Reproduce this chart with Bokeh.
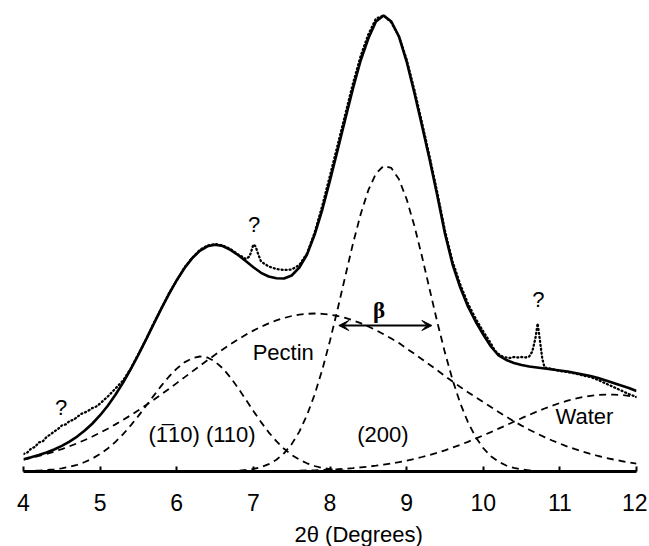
from bokeh.plotting import figure
from bokeh.models import Range1d, Label, Arrow, VeeHead, FixedTicker, Title
from bokeh.embed import file_html
from bokeh.resources import INLINE

# ---- data (intensity in arbitrary units) ----
TWO_THETA = [4.0, 4.1, 4.2, 4.3, 4.4, 4.5, 4.6, 4.7, 4.8, 4.9,
             5.0, 5.1, 5.2, 5.3, 5.4, 5.5, 5.6, 5.7, 5.8, 5.9,
             6.0, 6.1, 6.2, 6.3, 6.4, 6.5, 6.6, 6.7, 6.8, 6.9,
             7.0, 7.1, 7.2, 7.3, 7.4, 7.5, 7.6, 7.7, 7.8, 7.9,
             8.0, 8.1, 8.2, 8.3, 8.4, 8.5, 8.6, 8.7, 8.8, 8.9,
             9.0, 9.1, 9.2, 9.3, 9.4, 9.5, 9.6, 9.7, 9.8, 9.9,
             10.0, 10.1, 10.2, 10.3, 10.4, 10.5, 10.6, 10.7, 10.8, 10.9,
             11.0, 11.1, 11.2, 11.3, 11.4, 11.5, 11.6, 11.7, 11.8, 11.9,
             12.0]

PEAK_110 = [0.3, 0.6, 0.9, 1.4, 2.1, 3.2, 4.7, 6.7, 9.5, 13.0,
            17.5, 23.0, 29.6, 37.3, 46.1, 55.6, 65.7, 75.9, 85.9, 95.0,
            102.9, 109.1, 113.2, 115.0, 114.0, 109.9, 103.2, 94.1, 83.5, 72.1,
            60.5, 49.4, 39.2, 30.3, 22.7, 16.6, 11.8, 8.2, 5.5, 3.6,
            2.3, 1.4, 0.8, 0.5, 0.3, 0.2, 0.1, 0.1, 0, 0,
            0, 0, 0, 0, 0, 0, 0, 0, 0, 0,
            0, 0, 0, 0, 0, 0, 0, 0, 0, 0,
            0, 0, 0, 0, 0, 0, 0, 0, 0, 0,
            0]

PECTIN = [11.9, 13.6, 15.5, 17.6, 19.9, 22.4, 25.2, 28.2, 31.5, 35.0,
          38.8, 42.8, 47.1, 51.6, 56.3, 61.2, 66.4, 71.7, 77.2, 82.7,
          88.4, 94.1, 99.9, 105.6, 111.2, 116.7, 122.1, 127.2, 132.1, 136.7,
          140.9, 144.7, 148.1, 151.1, 153.5, 155.5, 156.9, 157.7, 158.0, 157.7,
          156.9, 155.5, 153.6, 151.2, 148.3, 145.0, 141.3, 137.3, 133.0, 128.5,
          123.0, 117.8, 112.3, 106.8, 101.2, 95.5, 90.0, 84.6, 79.3, 74.2,
          69.4, 64.5, 59.5, 54.8, 50.2, 45.9, 41.8, 38.0, 34.4, 31.0,
          27.9, 24.9, 22.3, 19.8, 17.6, 15.5, 13.7, 12.0, 10.5, 9.1,
          7.9]

PEAK_200 = [0, 0, 0, 0, 0, 0, 0, 0, 0, 0,
            0, 0, 0, 0, 0, 0, 0, 0, 0, 0,
            0, 0, 0, 0, 0, 0.1, 0.2, 0.4, 0.8, 1.5,
            2.6, 4.4, 7.3, 11.7, 18.2, 27.4, 39.9, 56.4, 77.1, 102.0,
            130.8, 162.5, 195.5, 227.9, 257.2, 281.3, 297.9, 305.6, 303.6, 292.2,
            272.4, 246.0, 215.2, 182.3, 149.5, 118.9, 91.5, 68.2, 49.3, 34.5,
            23.4, 15.3, 9.8, 6.0, 3.6, 2.1, 1.2, 0.6, 0.3, 0.2,
            0.1, 0, 0, 0, 0, 0, 0, 0, 0, 0,
            0]

WATER = [0, 0, 0, 0, 0, 0, 0, 0, 0, 0,
         0, 0, 0, 0, 0, 0, 0, 0, 0, 0,
         0, 0, 0, 0, 0, 0, 0, 0, 0.1, 0.1,
         0.2, 0.2, 0.3, 0.4, 0.5, 0.6, 0.8, 1.0, 1.2, 1.5,
         1.9, 2.3, 2.8, 3.4, 4.1, 4.9, 5.8, 6.8, 8.0, 9.4,
         10.9, 12.6, 14.5, 16.5, 18.8, 21.2, 23.9, 26.7, 29.7, 32.8,
         36.1, 39.4, 42.9, 46.3, 49.8, 53.3, 56.6, 59.9, 63.0, 65.8,
         68.5, 70.8, 72.8, 74.4, 75.7, 76.5, 76.9, 76.9, 76.5, 75.7,
         74.4]

FIT = [12.2, 14.2, 16.4, 19.0, 22.0, 25.6, 29.9, 34.9, 41.0, 48.0,
       56.3, 65.8, 76.7, 88.9, 102.4, 116.8, 132.1, 147.6, 163.1, 177.7,
       191.3, 203.2, 213.1, 220.6, 225.2, 226.7, 225.5, 221.7, 216.5, 210.4,
       204.2, 198.7, 195.0, 193.2, 193.0, 196.0, 204.0, 217.0, 237.0, 262.0,
       291.0, 321.5, 352.5, 383.0, 411.0, 433.0, 450.0, 456.0, 450.0, 435.0,
       410.0, 379.0, 346.0, 312.0, 276.0, 238.0, 207.0, 184.0, 165.0, 150.0,
       137.0, 125.0, 116.0, 111.5, 108.5, 106.5, 105.0, 104.0, 103.0, 102.0,
       101.0, 100.0, 98.5, 97.0, 95.5, 93.5, 91.0, 88.5, 86.0, 83.5,
       80.5]

DATA_X = [4.0, 4.05, 4.1, 4.15, 4.2, 4.25, 4.3, 4.35, 4.4, 4.45,
          4.5, 4.55, 4.6, 4.65, 4.7, 4.75, 4.8, 4.85, 4.9, 4.95,
          5.0, 5.1, 5.2, 5.3, 5.4, 5.5, 5.6, 5.7, 5.8, 5.9,
          6.0, 6.1, 6.2, 6.3, 6.4, 6.5, 6.6, 6.7, 6.8, 6.85,
          6.9, 6.95, 6.98, 7.0, 7.03, 7.06, 7.1, 7.2, 7.3, 7.4,
          7.5, 7.6, 7.7, 7.8, 7.9, 8.0, 8.1, 8.2, 8.3, 8.4,
          8.5, 8.6, 8.7, 8.8, 8.9, 9.0, 9.1, 9.2, 9.3, 9.4,
          9.5, 9.6, 9.7, 9.8, 9.9, 10.0, 10.1, 10.15, 10.2, 10.25,
          10.3, 10.35, 10.4, 10.45, 10.5, 10.55, 10.6, 10.64, 10.68, 10.71,
          10.74, 10.77, 10.8, 10.9, 11.0, 11.1, 11.2, 11.3, 11.4, 11.5,
          11.6, 11.7, 11.8, 11.9, 12.0]

DATA_Y = [17.5, 19.0, 23.0, 24.5, 29.0, 30.0, 34.5, 37.0, 40.0, 42.5,
          46.0, 47.0, 50.5, 51.5, 54.5, 57.5, 59.0, 61.0, 63.5, 65.0,
          68.0, 75.0, 83.0, 91.0, 103.0, 117.5, 132.0, 148.5, 163.0, 178.5,
          191.0, 204.0, 213.5, 221.5, 226.0, 227.5, 226.0, 222.5, 217.0, 215.0,
          212.5, 215.0, 222.0, 227.0, 225.0, 218.0, 210.0, 205.0, 202.5, 201.5,
          202.0, 206.5, 218.0, 239.0, 266.0, 296.0, 326.5, 357.5, 388.0, 415.5,
          437.0, 453.0, 456.0, 449.0, 435.0, 412.0, 382.0, 349.0, 315.0, 279.0,
          241.0, 210.0, 187.0, 168.0, 153.0, 140.0, 128.0, 121.0, 117.5, 115.0,
          114.0, 113.5, 114.5, 114.0, 114.5, 114.0, 115.0, 120.0, 133.0, 148.0,
          131.0, 113.0, 104.0, 102.5, 100.5, 99.5, 98.0, 96.0, 94.5, 91.5,
          88.0, 84.5, 81.0, 77.5, 74.5]

TICKS = [4, 5, 6, 7, 8, 9, 10, 11, 12]

# FWHM of the (200) reflection (beta)
BETA_LEFT = 8.115
BETA_RIGHT = 9.33
BETA_LEVEL = 146

FONT = "Liberation Sans"
FS = "22px"

p = figure(frame_width=613, frame_height=461,
           x_range=Range1d(4, 12), y_range=Range1d(0, 461),
           output_backend="svg", toolbar_location=None,
           y_axis_location=None,
           min_border_left=23, min_border_right=11,
           min_border_top=10, min_border_bottom=0)
p.outline_line_color = None
p.grid.visible = False
p.background_fill_color = "white"
p.border_fill_color = "white"

ax = p.xaxis[0]
ax.ticker = FixedTicker(ticks=TICKS)
ax.axis_line_width = 2.8
ax.axis_line_color = "black"
ax.major_tick_in = 5
ax.major_tick_out = 0
ax.major_tick_line_width = 2
ax.major_tick_line_color = "black"
ax.minor_tick_line_color = None
ax.major_label_text_font = FONT
ax.major_label_text_font_size = "23px"
ax.major_label_text_color = "black"
ax.major_label_standoff = 22

p.add_layout(Title(text="2\u03b8 (Degrees)", align="left", offset=271,
                   text_font=FONT, text_font_size=FS, text_font_style="normal",
                   text_color="black", standoff=12), "below")

dash = "7 5"
for comp in (PEAK_110, PECTIN, PEAK_200, WATER):
    p.line(TWO_THETA, comp, line_color="black", line_width=1.8, line_dash=dash)

p.line(TWO_THETA, FIT, line_color="black", line_width=2.6)
p.line(DATA_X, DATA_Y, line_color="black", line_width=2.3, line_dash="1 3",
       line_cap="round")

p.add_layout(Arrow(start=VeeHead(size=10, fill_color="black", line_color="black", line_width=1),
                   end=VeeHead(size=10, fill_color="black", line_color="black", line_width=1),
                   x_start=BETA_LEFT, y_start=BETA_LEVEL, x_end=BETA_RIGHT, y_end=BETA_LEVEL,
                   line_width=2, line_color="black"))

def lab(x, y, text, font=FONT, size=FS, style="normal"):
    p.add_layout(Label(x=x, y=y, text=text, text_align="center", text_baseline="middle",
                       text_font=font, text_font_size=size, text_font_style=style,
                       text_color="black"))

lab(4.49, 64, "?")
lab(7.01, 247, "?")
lab(10.72, 172, "?")
lab(7.39, 119, "Pectin")
lab(8.64, 161, "\u03b2", font="Liberation Serif", size="23px", style="bold")
lab(6.33, 37, "(1\u030510) (110)")
lab(8.69, 37, "(200)")
lab(11.32, 55, "Water")

open("out.html", "w").write(file_html(p, INLINE))
